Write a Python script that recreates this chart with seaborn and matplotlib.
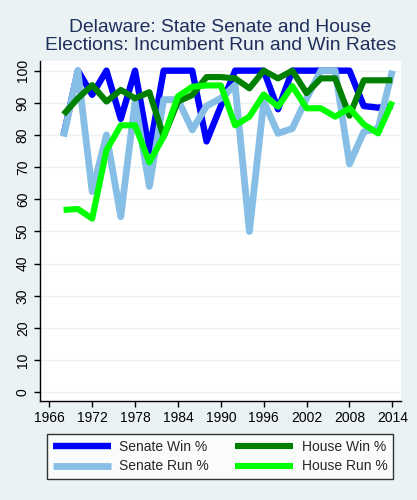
import pandas as pd
import matplotlib
matplotlib.use("agg")
import matplotlib.pyplot as plt
import seaborn as sns

years = list(range(1968, 2015, 2))

senate_win = [80, 100, 92.5, 100, 85, 100, 75, 100, 100, 100, 78, 89,
              100, 100, 100, 88, 100, 100, 100, 100, 100, 89, 88.5, 89]
senate_run = [79.5, 100, 62.4, 80, 54.6, 90.4, 64, 91, 91, 81.6, 89, 91.4,
              95.5, 50, 90.4, 80.5, 82, 91.4, 100, 100, 71, 81, 82, 100]
house_win = [86.4, 91.4, 95.5, 90.4, 94, 91.4, 93.3, 79.5, 90.4, 92.4, 98, 98,
             97.6, 94.5, 100, 97.6, 100, 93, 97.6, 97.6, 86, 97, 97, 97]
house_run = [56.7, 57, 54, 75.3, 83, 83, 71.5, 79.5, 92, 95, 95.4, 95.4,
             83, 85.7, 92.6, 88.8, 95.2, 88.3, 88.3, 85.7, 88.3, 83.3, 80.5, 90.4]

bg = "#EAF2F3"
navy = "#1F2F5C"

sns.set_style("white")
plt.rcParams["font.family"] = ["Liberation Sans", "DejaVu Sans"]

df = pd.DataFrame({
    "year": years,
    "Senate Win %": senate_win,
    "Senate Run %": senate_run,
    "House Win %": house_win,
    "House Run %": house_run,
})

fig = plt.figure(figsize=(4.17, 5.0), dpi=100, facecolor=bg)
ax = fig.add_axes([0.0966, 0.198, 0.8644, 0.68])
ax.set_facecolor("white")

styles = {
    "Senate Win %": ("#0000FF", 4.6),
    "Senate Run %": ("#86BEE6", 4.9),
    "House Win %": ("#008000", 4.4),
    "House Run %": ("#00FF00", 4.4),
}
lines = {}
for name, (col, lw) in styles.items():
    sns.lineplot(data=df, x="year", y=name, color=col, linewidth=lw, ax=ax,
                 solid_capstyle="butt", solid_joinstyle="round")
    lines[name] = ax.lines[-1]

ax.set_xlim(1964.74, 2015.17)
ax.set_ylim(-2.7, 103)
ax.set_xticks(range(1966, 2015, 6))
ax.set_yticks(range(0, 101, 10))
ax.set_xlabel("")
ax.set_ylabel("")
ax.yaxis.grid(True, color=bg, linewidth=1)
ax.set_axisbelow(True)
for s in ["top", "right"]:
    ax.spines[s].set_visible(False)
for s in ["left", "bottom"]:
    ax.spines[s].set_color("black")
    ax.spines[s].set_linewidth(1)
ax.tick_params(axis="both", direction="out", length=4, width=1, color="black",
               labelsize=10, labelcolor="black", bottom=True, left=True)
for lab in ax.get_yticklabels():
    lab.set_rotation(90)
    lab.set_va("center")

fig.text(0.528, 0.927, "Delaware: State Senate and House\nElections: Incumbent Run and Win Rates",
         ha="center", va="center", fontsize=13.9, color=navy, linespacing=1.0)

order = ["Senate Win %", "Senate Run %", "House Win %", "House Run %"]
leg = fig.legend([lines[n] for n in order], order, ncol=2,
                 loc="lower left", bbox_to_anchor=(0.1127, 0.042, 0.83, 0.092),
                 mode="expand", frameon=True, fancybox=False, fontsize=10,
                 handlelength=4.2, borderaxespad=0, handletextpad=0.6,
                 labelspacing=0.4, borderpad=0.4, columnspacing=0.6)
leg.get_frame().set_edgecolor("black")
leg.get_frame().set_linewidth(1)
leg.get_frame().set_facecolor("white")

fig.savefig("out.png", dpi=100, facecolor=bg)
